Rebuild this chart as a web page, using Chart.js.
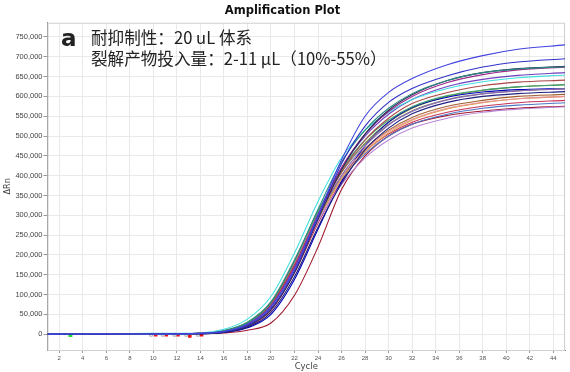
<!DOCTYPE html>
<html>
<head>
<meta charset="utf-8">
<script src="https://cdn.jsdelivr.net/npm/chart.js@4.4.1/dist/chart.umd.min.js"></script>
<style>
  html, body { margin: 0; padding: 0; background: #fff; }
  #wrap { width: 570px; height: 372px; }
</style>
</head>
<body>
<div id="wrap"><canvas id="amp" width="570" height="372"></canvas></div>
<script>
const cycles = [1, 6, 10, 14, 16, 18, 20, 22, 24, 26, 28, 30, 32, 35, 38, 41, 45];

const well01 = [0, 1, 0, 2, 7, 25, 70, 165, 300, 440, 550, 610, 645, 680, 703, 719, 730];
const well02 = [0, 0, 1, 2, 6, 22, 65, 160, 295, 430, 525, 585, 620, 652, 674, 687, 695];
const well03 = [0, 1, 0, 2, 8, 28, 80, 185, 315, 435, 515, 570, 607, 640, 660, 669, 675];
const well04 = [0, 0, 1, 1, 5, 20, 62, 155, 290, 415, 505, 565, 604, 640, 660, 670, 676];
const well05 = [0, 1, 1, 2, 7, 24, 70, 170, 300, 420, 505, 562, 600, 635, 655, 667, 674];
const well06 = [1, 1, 2, 3, 12, 38, 95, 205, 335, 445, 515, 560, 592, 620, 637, 647, 654];
const well07 = [0, 0, 1, 2, 8, 26, 75, 175, 300, 410, 490, 545, 582, 610, 627, 636, 641];
const well08 = [0, 1, 0, 2, 9, 30, 80, 185, 310, 415, 490, 540, 574, 602, 616, 624, 629];
const well09 = [0, 0, 1, 2, 7, 25, 72, 170, 295, 400, 475, 528, 562, 591, 606, 614, 619];
const well10 = [0, 1, 1, 2, 9, 30, 82, 188, 310, 410, 480, 530, 564, 592, 607, 614, 619];
const well11 = [0, 0, 0, 1, 5, 18, 55, 145, 270, 380, 465, 520, 556, 585, 600, 607, 612];
const well12 = [0, 1, 1, 2, 8, 27, 76, 178, 300, 398, 465, 512, 542, 570, 585, 594, 600];
const well13 = [0, 0, 1, 2, 7, 25, 72, 172, 293, 392, 460, 508, 540, 568, 584, 594, 600];
const well14 = [0, 1, 0, 2, 8, 28, 78, 180, 300, 392, 455, 500, 530, 555, 570, 578, 584];
const well15 = [0, 0, 1, 2, 7, 24, 70, 168, 285, 378, 445, 490, 520, 545, 560, 568, 574];
const well16 = [0, 0, 0, 1, 4, 16, 50, 138, 265, 385, 475, 535, 572, 598, 611, 617, 620];
const well17 = [0, 0, 1, 1, 3, 10, 28, 98, 220, 365, 450, 500, 530, 552, 563, 570, 575];
const well18 = [0, 1, 0, 2, 6, 20, 60, 155, 280, 385, 460, 505, 535, 560, 575, 584, 590];
const well19 = [0, 0, 1, 2, 8, 27, 75, 178, 302, 408, 482, 535, 570, 600, 615, 624, 630];
const well20 = [0, 1, 1, 2, 7, 24, 70, 168, 290, 392, 468, 515, 547, 575, 590, 600, 605];
const well21 = [0, 0, 1, 2, 7, 26, 74, 175, 305, 420, 500, 555, 592, 625, 643, 653, 660];

const wells = [well01, well02, well03, well04, well05, well06, well07, well08, well09, well10,
               well11, well12, well13, well14, well15, well16, well17, well18, well19, well20, well21];
const wellColors = ['#4444e0', '#3232c8', '#2a8c80', '#2a2a55', '#a02890', '#44e0e0', '#a84848',
                    '#40a070', '#8868b0', '#808080', '#202080', '#e89090', '#e0a850', '#5078c8',
                    '#b888d8', '#0000c0', '#a01830', '#c83858', '#708a30', '#a06030', '#7040c0'];

// baseline markers near the start of the run
const greenX = [2.95];
const greenY = [-2500];
const redX = [10.2, 11.1, 12.1, 13.1, 14.1];
const redY = [-1500, -1500, -1500, -4500, -1500];
const boxX = [9.8, 10.8, 11.8, 12.8, 13.8];
const boxY = [-1500, -1500, -1500, -1500, -1500];

const xTicks = [2, 4, 6, 8, 10, 12, 14, 16, 18, 20, 22, 24, 26, 28, 30, 32, 34, 36, 38, 40, 42, 44];
const yTicks = [0, 50000, 100000, 150000, 200000, 250000, 300000, 350000, 400000,
                450000, 500000, 550000, 600000, 650000, 700000, 750000];

const pts = (xs, ys) => xs.map((x, i) => ({ x: x, y: ys[i] }));

const datasets = wells.map((w, i) => ({
    data: cycles.map((c, j) => ({ x: c, y: w[j] * 1000 })),
    borderColor: wellColors[i],
    borderWidth: 1.1,
    pointRadius: 0,
    fill: false,
    cubicInterpolationMode: 'monotone'
}));

datasets.push({ data: pts(boxX, boxY), showLine: false, pointStyle: 'rect', pointRadius: 2,
                backgroundColor: '#fff', borderColor: '#aaa', borderWidth: 1 });
datasets.push({ data: pts(redX, redY), showLine: false, pointStyle: 'rect', pointRadius: 2.5,
                backgroundColor: '#ee1111', borderWidth: 0 });
datasets.push({ data: pts(greenX, greenY), showLine: false, pointStyle: 'rect', pointRadius: 2.8,
                backgroundColor: '#22dd33', borderWidth: 0 });

// light frame around the plot area
const frame = {
    id: 'frame',
    beforeDatasetsDraw(chart) {
        const a = chart.chartArea, ctx = chart.ctx;
        ctx.save();
        ctx.strokeStyle = '#cfcfcf';
        ctx.lineWidth = 1;
        ctx.strokeRect(a.left + 0.5, a.top + 0.5, a.right - a.left - 1, a.bottom - a.top);
        ctx.restore();
    }
};

// panel label and conditions text
const note = {
    id: 'note',
    afterDraw(chart) {
        const ctx = chart.ctx;
        ctx.save();
        ctx.fillStyle = '#222';
        ctx.textBaseline = 'alphabetic';
        ctx.font = 'bold 23px "DejaVu Sans", sans-serif';
        ctx.fillText('a', 61, 46);
        ctx.font = '16.6px "Noto Sans CJK SC", sans-serif';
        ctx.fillText('耐抑制性：20 uL 体系', 91, 44);
        ctx.fillText('裂解产物投入量：2-11 µL（10%-55%）', 91, 65);
        ctx.restore();
    }
};

new Chart(document.getElementById('amp'), {
    type: 'line',
    data: { datasets: datasets },
    options: {
        responsive: false,
        animation: false,
        layout: { padding: { left: 0, right: 5, top: 0, bottom: 0 } },
        plugins: {
            legend: { display: false },
            tooltip: { enabled: false },
            title: {
                display: true,
                text: 'Amplification Plot',
                color: '#111',
                font: { family: 'DejaVu Sans', size: 11.5, weight: 'bold' },
                padding: { top: 4.5, bottom: 4.4 }
            }
        },
        scales: {
            x: {
                type: 'linear',
                min: 1,
                max: 45,
                afterBuildTicks: s => { s.ticks = xTicks.map(v => ({ value: v })); },
                afterFit: s => { s.height = 22; },
                ticks: {
                    autoSkip: false, maxRotation: 0, padding: 2, color: '#555',
                    font: { family: 'Liberation Sans', size: 6 }
                },
                grid: { color: '#e9e9e9', tickLength: 3, tickColor: '#999' },
                border: { color: '#808080' },
                title: {
                    display: true, text: 'Cycle', color: '#444',
                    font: { family: 'DejaVu Sans', size: 8.5 },
                    padding: { top: 0, bottom: 0 }
                }
            },
            y: {
                min: -40000,
                max: 786000,
                afterBuildTicks: s => { s.ticks = yTicks.map(v => ({ value: v })); },
                afterFit: s => { s.width = 47.5; },
                ticks: {
                    padding: 1, color: '#444',
                    font: { family: 'Liberation Sans', size: 7.5 },
                    callback: v => v.toLocaleString('en-US')
                },
                grid: { color: '#e9e9e9', tickLength: 4, tickColor: '#999' },
                border: { color: '#808080' },
                title: {
                    display: true, text: 'ΔRn', color: '#444',
                    font: { family: 'DejaVu Sans', size: 8 },
                    padding: { top: 3, bottom: 0 }
                }
            }
        }
    },
    plugins: [frame, note]
});
</script>
</body>
</html>
